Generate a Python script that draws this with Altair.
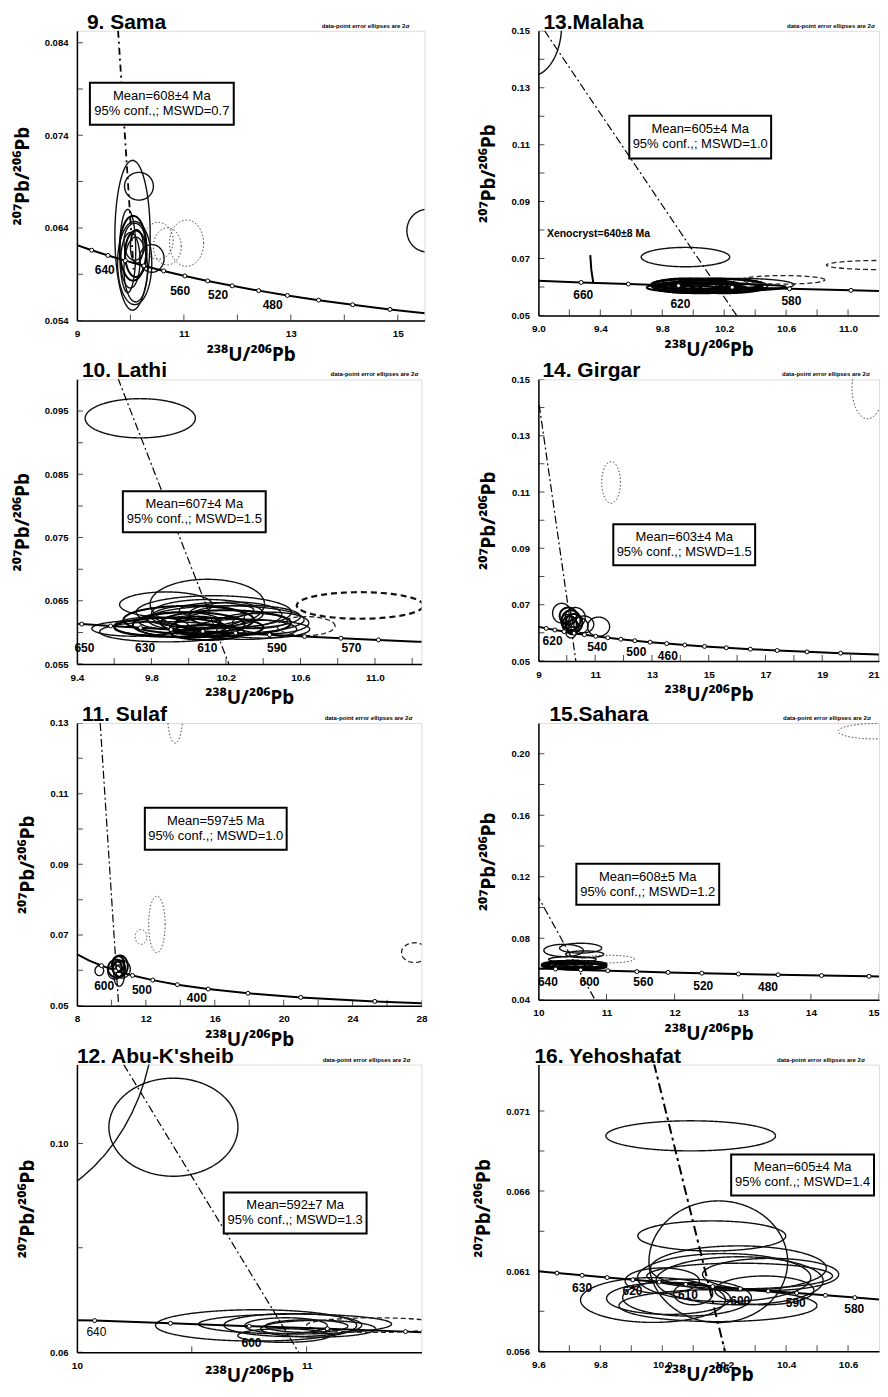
import altair as alt
import numpy as np
import pandas as pd

FONT = "Liberation Sans"
TFONT = "Noto Sans"
X_TITLE = "²³⁸U/²⁰⁶Pb"
Y_TITLE = "²⁰⁷Pb/²⁰⁶Pb"
NOTE = "data-point error ellipses are 2σ"

# Concordia reference table: age (Ma), 238U/206Pb, 207Pb/206Pb
CONC_AGE = [760, 700, 680, 660, 650, 645, 640, 635, 630, 625, 620, 615, 610, 605, 600, 595, 590, 585, 580, 575,
            570, 560, 550, 540, 520, 500, 480, 460, 450, 440, 420, 400, 380, 360, 350, 340, 320, 300, 280, 250, 220]
CONC_X = [7.992, 8.718, 8.989, 9.276, 9.426, 9.503, 9.581, 9.660, 9.741, 9.822, 9.905, 9.990, 10.076, 10.163,
          10.252, 10.342, 10.434, 10.527, 10.622, 10.719, 10.817, 11.019, 11.228, 11.445, 11.904, 12.399, 12.936,
          13.520, 13.831, 14.157, 14.854, 15.621, 16.469, 17.412, 17.923, 18.465, 19.649, 20.992, 22.527, 25.289, 28.804]
CONC_Y = [0.06456, 0.06276, 0.06217, 0.06159, 0.06131, 0.06117, 0.06102, 0.06088, 0.06074, 0.06060, 0.06046,
          0.06032, 0.06018, 0.06004, 0.05990, 0.05976, 0.05963, 0.05949, 0.05935, 0.05921, 0.05908, 0.05881,
          0.05854, 0.05827, 0.05774, 0.05722, 0.05670, 0.05619, 0.05594, 0.05569, 0.05519, 0.05470, 0.05421,
          0.05374, 0.05350, 0.05326, 0.05280, 0.05233, 0.05188, 0.05120, 0.05054]

# ---- 9. Sama ----
SAMA_ELL = [(10.04, 0.0632, 0.33, 0.0081, "s"), (10.16, 0.0685, 0.27, 0.0015, "s"), (10.05, 0.0618, 0.25, 0.0035, "B"),
            (10.10, 0.0612, 0.20, 0.0025, "B"), (10.00, 0.0605, 0.18, 0.0030, "s"), (10.08, 0.0625, 0.20, 0.0020, "s"),
            (9.95, 0.0615, 0.15, 0.0045, "s"), (10.10, 0.0595, 0.22, 0.0035, "s"), (10.08, 0.0602, 0.32, 0.0045, "s"),
            (10.12, 0.0620, 0.12, 0.0018, "s"), (10.40, 0.0607, 0.23, 0.0015, "s"), (10.52, 0.0626, 0.28, 0.0020, "o"),
            (10.69, 0.0620, 0.26, 0.0020, "o"), (11.05, 0.06235, 0.32, 0.0025, "o"), (15.55, 0.0637, 0.38, 0.0023, "s")]
SAMA_LINE_AGES = [680, 660, 640, 620, 600, 580, 560, 540, 520, 500, 480, 460, 440, 420, 400]
SAMA_MARK_AGES = [660, 640, 620, 600, 580, 560, 540, 520, 500, 480, 460, 440, 420]
SAMA_REG_X = [9.77, 10.06]
SAMA_REG_Y = [0.0853, 0.0595]
SAMA_LABELS = [("640", 9.52, 0.0594, True), ("560", 10.93, 0.0572, True), ("520", 11.64, 0.0567, True), ("480", 12.66, 0.0557, True)]

# ---- 10. Lathi ----
LATHI_ELL = [(9.74, 0.09385, 0.296, 0.0031, "s"), (10.10, 0.0645, 0.307, 0.0039, "s"), (9.878, 0.0644, 0.249, 0.0020, "s"),
             (10.135, 0.0632, 0.417, 0.0026, "s"), (9.877, 0.0601, 0.355, 0.0016, "s"), (10.20, 0.0620, 0.42, 0.0022, "s"),
             (10.44, 0.0615, 0.205, 0.0017, "s"), (10.00, 0.0612, 0.30, 0.0020, "B"), (10.05, 0.0625, 0.25, 0.0018, "s"),
             (10.15, 0.0608, 0.25, 0.0015, "B"), (9.95, 0.0618, 0.22, 0.0014, "s"), (10.25, 0.0628, 0.25, 0.0020, "s"),
             (10.10, 0.0600, 0.20, 0.0012, "B"), (10.30, 0.0605, 0.28, 0.0016, "s"), (9.80, 0.0610, 0.20, 0.0014, "s"),
             (10.15, 0.0635, 0.20, 0.0012, "s"), (10.05, 0.0615, 0.12, 0.0010, "B"), (10.35, 0.0618, 0.18, 0.0012, "s"),
             (10.00, 0.0620, 0.35, 0.0022, "B"), (10.20, 0.0615, 0.35, 0.0020, "B"), (9.90, 0.0608, 0.30, 0.0015, "B"),
             (10.30, 0.0625, 0.30, 0.0018, "s"), (10.10, 0.0630, 0.30, 0.0022, "s"), (10.40, 0.0605, 0.25, 0.0014, "s"),
             (9.70, 0.0606, 0.22, 0.0012, "s"),
             (10.63, 0.0610, 0.156, 0.0015, "d"), (10.92, 0.06426, 0.34, 0.0021, "D")]
LATHI_LINE_AGES = [660, 650, 640, 630, 620, 610, 600, 590, 580, 570, 560, 550, 540]
LATHI_MARK_AGES = [650, 640, 630, 620, 610, 600, 590, 580, 570, 560]
LATHI_REG_X = [9.62, 10.216]
LATHI_REG_Y = [0.1002, 0.055]
LATHI_LABELS = [("650", 9.44, 0.0576, True), ("630", 9.766, 0.0576, True), ("610", 10.10, 0.0576, True),
                ("590", 10.474, 0.0576, True), ("570", 10.874, 0.0576, True)]

# ---- 11. Sulaf ----
SULAF_ELL = [(13.7, 0.133, 0.45, 0.0087, "o"), (12.64, 0.073, 0.48, 0.008, "o"), (11.72, 0.06945, 0.34, 0.0021, "o"),
             (27.6, 0.065, 0.76, 0.0028, "d"), (9.3, 0.0599, 0.25, 0.0014, "s"), (10.3, 0.0605, 0.5, 0.0025, "B"),
             (10.5, 0.0612, 0.45, 0.003, "B"), (10.2, 0.0595, 0.4, 0.002, "s"), (10.6, 0.0603, 0.5, 0.0025, "s"),
             (10.4, 0.0618, 0.35, 0.0022, "B"), (10.45, 0.0585, 0.3, 0.003, "s"), (10.35, 0.0610, 0.25, 0.0015, "B")]
SULAF_LINE_AGES = [760, 700, 650, 600, 550, 500, 450, 400, 350, 300, 250, 220]
SULAF_MARK_AGES = [650, 600, 550, 500, 450, 400, 350, 300, 250]
SULAF_REG_X = [9.35, 10.42]
SULAF_REG_Y = [0.130, 0.050]
SULAF_LABELS = [("600", 9.58, 0.0556, True), ("500", 11.77, 0.0543, True), ("400", 14.96, 0.0523, True)]

# ---- 12. Abu-K'sheib ----
ABU_ELL = [(9.6, 0.125, 0.738, 0.0384, "s"), (10.42, 0.1031, 0.281, 0.0094, "s"), (10.78, 0.06514, 0.438, 0.0030, "s"),
           (10.95, 0.0654, 0.42, 0.0019, "s"), (10.94, 0.0652, 0.30, 0.0022, "s"), (10.91, 0.0651, 0.18, 0.0015, "s"),
           (11.00, 0.0650, 0.18, 0.0012, "s"), (10.90, 0.0632, 0.20, 0.0013, "s"), (11.05, 0.0645, 0.25, 0.0016, "s"),
           (11.30, 0.0652, 0.30, 0.0014, "d")]
ABU_CONC_X = [10.0, 10.077, 10.407, 10.75, 11.09, 11.43, 11.5]
ABU_CONC_Y = [0.06612, 0.06606, 0.06555, 0.06500, 0.06450, 0.06395, 0.06383]
ABU_MARK_X = [10.077, 10.407, 10.75, 11.09, 11.43]
ABU_MARK_Y = [0.06606, 0.06555, 0.06500, 0.06450, 0.06395]
ABU_REG_X = [10.204, 10.965]
ABU_REG_Y = [0.1151, 0.060]
ABU_LABELS = [("640", 10.085, 0.0638, False), ("600", 10.76, 0.0617, True)]

# ---- 13. Malaha ----
MALAHA_ELL = [(8.95, 0.152, 0.20, 0.018, "s"), (9.95, 0.0705, 0.286, 0.0034, "s"), (9.95, 0.0605, 0.22, 0.0025, "B"),
              (10.05, 0.0602, 0.25, 0.0020, "B"), (10.15, 0.0607, 0.30, 0.0022, "B"), (10.00, 0.0598, 0.20, 0.0018, "B"),
              (10.20, 0.0603, 0.28, 0.0025, "B"), (10.10, 0.0610, 0.35, 0.0020, "B"), (10.30, 0.0608, 0.35, 0.0022, "s"),
              (9.90, 0.0602, 0.15, 0.0015, "B"), (10.05, 0.0595, 0.30, 0.0017, "B"), (10.25, 0.0598, 0.20, 0.0015, "B"),
              (10.10, 0.0604, 0.12, 0.0012, "B"), (9.98, 0.0610, 0.25, 0.0018, "B"), (10.12, 0.0600, 0.18, 0.0013, "B"),
              (10.08, 0.0608, 0.22, 0.0016, "B"), (9.85, 0.0598, 0.15, 0.0012, "B"), (10.20, 0.0600, 0.40, 0.0010, "B"),
              (10.58, 0.0625, 0.27, 0.0015, "d"), (11.20, 0.0677, 0.34, 0.0016, "d")]
MALAHA_LINE_AGES = [680, 660, 640, 620, 600, 580, 560, 540]
MALAHA_MARK_AGES = [660, 640, 620, 600, 580, 560]
MALAHA_REG_X = [9.04, 10.28]
MALAHA_REG_Y = [0.150, 0.050]
MALAHA_LABELS = [("660", 9.29, 0.0571, True), ("620", 9.917, 0.0540, True), ("580", 10.634, 0.0549, True)]
XENO_X = [9.335, 9.342, 9.355]
XENO_Y = [0.0712, 0.0660, 0.0613]
XENO_TEXT = "Xenocryst=640±8 Ma"

# ---- 14. Girgar ----
GIRGAR_ELL = [(20.6, 0.147, 0.55, 0.011, "o"), (11.56, 0.1134, 0.33, 0.0074, "o"), (11.12, 0.0622, 0.39, 0.0034, "s"),
              (9.82, 0.0670, 0.32, 0.0035, "s"), (10.30, 0.0655, 0.35, 0.0035, "s"), (10.15, 0.0645, 0.33, 0.0035, "B"),
              (10.05, 0.0660, 0.30, 0.0030, "B"), (10.25, 0.0635, 0.30, 0.0032, "B"), (10.40, 0.0625, 0.35, 0.0030, "s"),
              (10.10, 0.0630, 0.25, 0.0030, "B"), (10.20, 0.0620, 0.22, 0.0025, "B"), (10.15, 0.0602, 0.18, 0.0020, "s"),
              (10.00, 0.0640, 0.20, 0.0025, "s"), (10.60, 0.0630, 0.35, 0.0030, "s")]
GIRGAR_LINE_AGES = [680, 660, 640, 620, 600, 580, 560, 540, 520, 500, 480, 460, 440, 420, 400, 380, 360, 340, 320, 300]
GIRGAR_MARK_AGES = [660, 640, 620, 600, 580, 560, 540, 520, 500, 480, 460, 440, 420, 400, 380, 360, 340, 320]
GIRGAR_REG_X = [9.03, 10.32]
GIRGAR_REG_Y = [0.1409, 0.050]
GIRGAR_LABELS = [("620", 9.5, 0.0572, True), ("540", 11.07, 0.0550, True), ("500", 12.45, 0.0531, True), ("460", 13.56, 0.0519, True)]

# ---- 15. Sahara ----
SAHARA_ELL = [(14.95, 0.2146, 0.55, 0.005, "o"), (10.37, 0.072, 0.29, 0.004, "s"), (10.62, 0.0735, 0.31, 0.0032, "s"),
              (10.68, 0.0695, 0.28, 0.0022, "s"), (10.50, 0.0662, 0.35, 0.0018, "s"), (11.02, 0.0664, 0.39, 0.0025, "o"),
              (10.55, 0.0622, 0.45, 0.0025, "B"), (10.45, 0.0630, 0.35, 0.0020, "B"), (10.60, 0.0615, 0.40, 0.0020, "B"),
              (10.40, 0.0620, 0.30, 0.0018, "B"), (10.70, 0.0625, 0.30, 0.0022, "B"), (10.50, 0.0640, 0.30, 0.0015, "s"),
              (10.50, 0.0628, 0.45, 0.0025, "B"), (10.30, 0.0622, 0.25, 0.0018, "B"), (10.65, 0.0630, 0.35, 0.0020, "B")]
SAHARA_LINE_AGES = [640, 620, 600, 580, 560, 540, 520, 500, 480, 460, 440, 420, 400]
SAHARA_MARK_AGES = [600, 580, 560, 540, 520, 500, 480, 460, 440, 420]
SAHARA_REG_X = [9.97, 10.83]
SAHARA_REG_Y = [0.1091, 0.040]
SAHARA_LABELS = [("640", 10.14, 0.0517, True), ("600", 10.75, 0.0517, True), ("560", 11.54, 0.0517, True),
                 ("520", 12.42, 0.0489, True), ("480", 13.37, 0.0485, True)]

# ---- 16. Yehoshafat ----
YEHO_ELL = [(10.092, 0.06945, 0.274, 0.00094, "s"), (10.181, 0.06159, 0.224, 0.0038, "s"), (10.16, 0.0632, 0.239, 0.00094, "s"),
            (10.246, 0.06118, 0.284, 0.0014, "s"), (9.97, 0.0592, 0.234, 0.0014, "s"), (10.02, 0.0593, 0.20, 0.0010, "s"),
            (10.08, 0.05935, 0.208, 0.00115, "s"), (10.10, 0.0596, 0.063, 0.0007, "s"), (10.20, 0.0606, 0.28, 0.0015, "s"),
            (10.25, 0.0604, 0.27, 0.0015, "s"), (10.35, 0.0608, 0.22, 0.0010, "s"), (10.25, 0.0607, 0.30, 0.0008, "s"),
            (10.33, 0.0598, 0.16, 0.0009, "s"), (10.00, 0.0604, 0.12, 0.0008, "s"), (10.18, 0.05885, 0.32, 0.0010, "s")]
YEHO_LINE_AGES = [645, 640, 635, 630, 625, 620, 615, 610, 605, 600, 595, 590, 585, 580, 575]
YEHO_MARK_AGES = [635, 630, 625, 620, 615, 610, 605, 600, 595, 590, 585, 580]
YEHO_REG_X = [9.973, 10.2025]
YEHO_REG_Y = [0.0740, 0.056]
YEHO_LABELS = [("630", 9.741, 0.05998, True), ("620", 9.904, 0.05977, True), ("610", 10.083, 0.0595, True),
               ("600", 10.252, 0.05914, True), ("590", 10.431, 0.05904, True), ("580", 10.62, 0.05863, True)]

STYLES = {"s": ([1, 0], 1.4, "#111"), "B": ([1, 0], 2.0, "#000"), "d": ([5, 3], 1.3, "#222"),
          "o": ([1.5, 2], 1.0, "#444"), "D": ([6, 4], 2.2, "#111")}
ONE = pd.DataFrame({"a": [0]})


def conc_frame(ages):
    idx = [CONC_AGE.index(a) for a in ages]
    return pd.DataFrame({"x": [CONC_X[i] for i in idx], "y": [CONC_Y[i] for i in idx]})


def ellipse_frame(ells, n=72):
    rows = []
    for i, (cx, cy, rx, ry, st) in enumerate(ells):
        for k in range(n + 1):
            a = 2 * np.pi * k / n
            rows.append({"id": i, "k": k, "x": cx + rx * np.cos(a), "y": cy + ry * np.sin(a), "style": st})
    return pd.DataFrame(rows)


def text_value(txt, x, y, size, bold=True, align="left", baseline="alphabetic", font=FONT):
    return alt.Chart(ONE).mark_text(font=font, fontSize=size, fontWeight="bold" if bold else "normal",
                                    align=align, baseline=baseline, color="black").encode(
        x=alt.value(x), y=alt.value(y), text=alt.value(txt))


def panel(p):
    W, H = p["W"], p["H"]
    xs = alt.Scale(domain=p["xdom"], nice=False, zero=False)
    ys = alt.Scale(domain=p["ydom"], nice=False, zero=False)
    xalign = "center"
    if p.get("last_right"):
        xalign = {"condition": {"test": "datum.value >= %g" % (p["xdom"][1] - 1e-6), "value": "right"},
                  "value": "center"}
    xax = alt.Axis(values=p["xmaj"], format=p["xfmt"], title=X_TITLE, ticks=False, grid=False,
                   labelFont=FONT, labelFontSize=10, labelFontWeight="bold", labelColor="black",
                   labelPadding=8, labelFlush=False, labelOverlap=False, labelAlign=xalign,
                   titleFont=TFONT, titleFontSize=19, titleFontWeight="bold", titleColor="black",
                   titlePadding=p.get("xtp", 7), domainColor="black", domainWidth=1.5)
    yax = alt.Axis(values=p["ymaj"], format=p["yfmt"], title=Y_TITLE, ticks=False, grid=False,
                   labelFont=FONT, labelFontSize=9.5, labelFontWeight="bold", labelColor="black",
                   labelPadding=9, labelFlush=False, labelOverlap=False,
                   titleFont=TFONT, titleFontSize=19, titleFontWeight="bold", titleColor="black",
                   titlePadding=12, domainColor="black", domainWidth=1.5)

    def X():
        return alt.X("x:Q", scale=xs, axis=xax)

    def Y():
        return alt.Y("y:Q", scale=ys, axis=yax)

    layers = []
    layers.append(alt.Chart(pd.DataFrame({"y": p["ymaj"] + p["ymin"]})).mark_tick(
        orient="horizontal", size=6, thickness=1, color="black", clip=True).encode(y=Y(), x=alt.value(3)))
    layers.append(alt.Chart(pd.DataFrame({"x": p["xmaj"] + p["xmin"]})).mark_tick(
        orient="vertical", size=6, thickness=1, color="black", clip=True).encode(x=X(), y=alt.value(H - 3)))
    edf = ellipse_frame(p["ell"])
    for st, (dash, w, col) in STYLES.items():
        sub = edf[edf["style"] == st]
        if len(sub) == 0:
            continue
        layers.append(alt.Chart(sub).mark_line(strokeDash=dash, strokeWidth=w, color=col, clip=True).encode(
            x=X(), y=Y(), detail="id:N", order="k:Q"))
    if "conc_xy" in p:
        cdf = pd.DataFrame({"x": p["conc_xy"][0], "y": p["conc_xy"][1]})
        mdf = pd.DataFrame({"x": p["mark_xy"][0], "y": p["mark_xy"][1]})
    else:
        cdf = conc_frame(p["line_ages"])
        mdf = conc_frame(p["mark_ages"])
    layers.append(alt.Chart(cdf).mark_line(color="black", strokeWidth=2, clip=True).encode(x=X(), y=Y(), order="x:Q"))
    layers.append(alt.Chart(mdf).mark_point(shape="circle", filled=True, fill="white", stroke="black",
                                            strokeWidth=1, size=16, opacity=1, clip=True).encode(x=X(), y=Y()))
    rdf = pd.DataFrame({"x": p["reg"][0], "y": p["reg"][1]})
    layers.append(alt.Chart(rdf).mark_line(color="black", strokeWidth=p["regw"], strokeDash=p["regdash"],
                                           clip=True).encode(x=X(), y=Y()))
    if "xeno" in p:
        xdf = pd.DataFrame({"x": p["xeno"][0], "y": p["xeno"][1]})
        layers.append(alt.Chart(xdf).mark_line(color="black", strokeWidth=2, clip=True).encode(x=X(), y=Y()))
        tdf = pd.DataFrame({"x": [p["xeno_pos"][0]], "y": [p["xeno_pos"][1]], "t": [p["xeno_text"]]})
        layers.append(alt.Chart(tdf).mark_text(font=FONT, fontSize=10.5, fontWeight="bold", align="left",
                                               baseline="middle", color="black").encode(x=X(), y=Y(), text="t:N"))
    for bold in (True, False):
        labs = [l for l in p["labels"] if l[3] == bold]
        if not labs:
            continue
        ldf = pd.DataFrame({"t": [l[0] for l in labs], "x": [l[1] for l in labs], "y": [l[2] for l in labs]})
        layers.append(alt.Chart(ldf).mark_text(font=FONT, fontSize=12, fontWeight="bold" if bold else "normal",
                                               align="center", baseline="middle", color="black").encode(
            x=X(), y=Y(), text="t:N"))
    bx, by, bw, bh = p["box"]
    layers.append(alt.Chart(ONE).mark_rect(fill="white", stroke="black", strokeWidth=2).encode(
        x=alt.value(bx), x2=alt.value(bx + bw), y=alt.value(by), y2=alt.value(by + bh)))
    layers.append(text_value(p["box_text"][0], bx + bw / 2, by + 13, 13, bold=False, align="center", baseline="middle"))
    layers.append(text_value(p["box_text"][1], bx + bw / 2, by + 28, 13, bold=False, align="center", baseline="middle"))
    layers.append(text_value(p["title"], p["title_dx"], -2, 21, bold=True))
    layers.append(text_value(NOTE, W - p["note_dx"], -3, 6, bold=True, align="right"))
    return alt.layer(*layers).properties(width=W, height=H)


COMMON = dict(regw=1.2, regdash=[8, 3, 2, 3], note_dx=8)

SAMA = dict(COMMON, title="9. Sama", title_dx=10, note_dx=15, W=348, H=290, xdom=[9, 15.5], ydom=[0.054, 0.0853],
            xmaj=[9, 11, 13, 15], xmin=[10, 12, 14], ymaj=[0.054, 0.064, 0.074, 0.084], ymin=[0.059, 0.069, 0.079],
            xfmt="d", yfmt=".3f", ell=SAMA_ELL, line_ages=SAMA_LINE_AGES, mark_ages=SAMA_MARK_AGES,
            reg=(SAMA_REG_X, SAMA_REG_Y), regw=1.8, regdash=[7, 4, 2, 4], box=(13, 52, 144, 42),
            box_text=("Mean=608±4 Ma", "95% conf.,; MSWD=0.7"), labels=SAMA_LABELS)
LATHI = dict(COMMON, title="10. Lathi", title_dx=5, note_dx=3, W=345, H=285, xdom=[9.4, 11.25], ydom=[0.055, 0.100],
             xmaj=[9.4, 9.8, 10.2, 10.6, 11.0], xmin=[9.6, 10.0, 10.4, 10.8, 11.2],
             ymaj=[0.055, 0.065, 0.075, 0.085, 0.095], ymin=[0.060, 0.070, 0.080, 0.090],
             xfmt=".1f", yfmt=".3f", ell=LATHI_ELL, line_ages=LATHI_LINE_AGES, mark_ages=LATHI_MARK_AGES,
             reg=(LATHI_REG_X, LATHI_REG_Y), box=(46, 112, 143, 41),
             box_text=("Mean=607±4 Ma", "95% conf.,; MSWD=1.5"), labels=LATHI_LABELS)
SULAF = dict(COMMON, title="11. Sulaf", title_dx=5, note_dx=9, W=345, H=283, xdom=[8, 28], ydom=[0.05, 0.13],
             xmaj=[8, 12, 16, 20, 24, 28], xmin=[10, 14, 18, 22, 26],
             ymaj=[0.05, 0.07, 0.09, 0.11, 0.13], ymin=[0.06, 0.08, 0.10, 0.12],
             xfmt="d", yfmt=".2f", ell=SULAF_ELL, line_ages=SULAF_LINE_AGES, mark_ages=SULAF_MARK_AGES,
             reg=(SULAF_REG_X, SULAF_REG_Y), box=(68, 85, 142, 42),
             box_text=("Mean=597±5 Ma", "95% conf.,; MSWD=1.0"), labels=SULAF_LABELS)
ABU = dict(COMMON, title="12. Abu-K'sheib", title_dx=0, note_dx=11, W=345, H=288, xdom=[10, 11.5], ydom=[0.06, 0.1151],
           xmaj=[10, 11], xmin=[10.5], ymaj=[0.06, 0.10], ymin=[0.08], xtp=-4,
           xfmt="d", yfmt=".2f", ell=ABU_ELL, conc_xy=(ABU_CONC_X, ABU_CONC_Y), mark_xy=(ABU_MARK_X, ABU_MARK_Y),
           reg=(ABU_REG_X, ABU_REG_Y), box=(147, 128, 143, 41),
           box_text=("Mean=592±7 Ma", "95% conf.,; MSWD=1.3"), labels=ABU_LABELS)
MALAHA = dict(COMMON, title="13.Malaha", title_dx=5, note_dx=4, W=341, H=285, xdom=[9.0, 11.2], ydom=[0.05, 0.15],
              xmaj=[9.0, 9.4, 9.8, 10.2, 10.6, 11.0], xmin=[9.2, 9.6, 10.0, 10.4, 10.8],
              ymaj=[0.05, 0.07, 0.09, 0.11, 0.13, 0.15], ymin=[0.06, 0.08, 0.10, 0.12, 0.14],
              xfmt=".1f", yfmt=".2f", ell=MALAHA_ELL, line_ages=MALAHA_LINE_AGES, mark_ages=MALAHA_MARK_AGES,
              reg=(MALAHA_REG_X, MALAHA_REG_Y), box=(91, 85, 142, 43),
              box_text=("Mean=605±4 Ma", "95% conf.,; MSWD=1.0"), labels=MALAHA_LABELS,
              xeno=(XENO_X, XENO_Y), xeno_pos=(9.055, 0.0785), xeno_text=XENO_TEXT)
GIRGAR = dict(COMMON, title="14. Girgar", title_dx=4, note_dx=9, W=341, H=282, xdom=[9, 21], ydom=[0.05, 0.15],
              xmaj=[9, 11, 13, 15, 17, 19, 21], xmin=[10, 12, 14, 16, 18, 20], last_right=True,
              ymaj=[0.05, 0.07, 0.09, 0.11, 0.13, 0.15], ymin=[0.06, 0.08, 0.10, 0.12, 0.14],
              xfmt="d", yfmt=".2f", ell=GIRGAR_ELL, line_ages=GIRGAR_LINE_AGES, mark_ages=GIRGAR_MARK_AGES,
              reg=(GIRGAR_REG_X, GIRGAR_REG_Y), box=(75, 145, 142, 41),
              box_text=("Mean=603±4 Ma", "95% conf.,; MSWD=1.5"), labels=GIRGAR_LABELS)
SAHARA = dict(COMMON, title="15.Sahara", title_dx=11, note_dx=8, W=341, H=277, xdom=[10, 15], ydom=[0.04, 0.22],
              xmaj=[10, 11, 12, 13, 14, 15], xmin=[], last_right=True,
              ymaj=[0.04, 0.08, 0.12, 0.16, 0.20], ymin=[0.06, 0.10, 0.14, 0.18],
              xfmt="d", yfmt=".2f", ell=SAHARA_ELL, line_ages=SAHARA_LINE_AGES, mark_ages=SAHARA_MARK_AGES,
              reg=(SAHARA_REG_X, SAHARA_REG_Y), box=(38, 141, 143, 41),
              box_text=("Mean=608±5 Ma", "95% conf.,; MSWD=1.2"), labels=SAHARA_LABELS)
YEHO = dict(COMMON, title="16. Yehoshafat", title_dx=-4, note_dx=14, W=341, H=287, xdom=[9.6, 10.7], ydom=[0.056, 0.0739],
            xmaj=[9.6, 9.8, 10.0, 10.2, 10.4, 10.6], xmin=[9.7, 9.9, 10.1, 10.3, 10.5], xtp=-4,
            ymaj=[0.056, 0.061, 0.066, 0.071], ymin=[0.0585, 0.0635, 0.0685],
            xfmt=".1f", yfmt=".3f", ell=YEHO_ELL, line_ages=YEHO_LINE_AGES, mark_ages=YEHO_MARK_AGES,
            reg=(YEHO_REG_X, YEHO_REG_Y), regw=2.0, regdash=[10, 4, 3, 4], box=(193, 90, 143, 41),
            box_text=("Mean=605±4 Ma", "95% conf.,; MSWD=1.4"), labels=YEHO_LABELS)

ORDER = (SAMA, MALAHA, LATHI, GIRGAR, SULAF, SAHARA, ABU, YEHO)

chart = alt.concat(*[panel(p) for p in ORDER], columns=2, bounds="flush",
                   spacing={"row": 59, "column": 114}).properties(
    padding={"left": 4, "top": 2, "right": 0, "bottom": 0}
).configure_view(stroke="black", strokeWidth=1.5).configure(font=FONT)

chart.save("out.html", embed_options={"renderer": "svg", "actions": False})
